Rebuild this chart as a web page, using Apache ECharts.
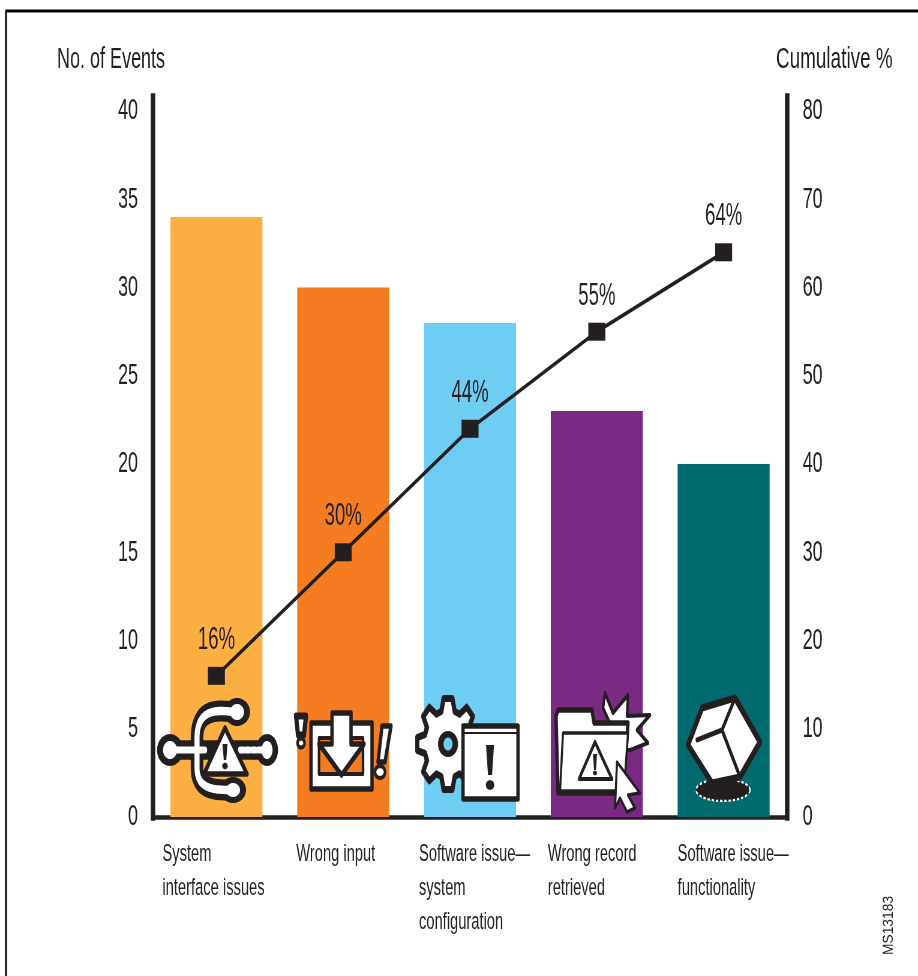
<!DOCTYPE html>
<html><head><meta charset="utf-8">
<style>html,body{margin:0;padding:0;background:#fff;overflow:hidden}
#wrap{width:918px;height:976px;overflow:hidden}
#c{width:1530px;height:976px;transform:scaleX(0.6);transform-origin:0 0}</style>
<script src="https://cdn.jsdelivr.net/npm/echarts@6/dist/echarts.min.js"></script>
</head><body><div id="wrap"><div id="c"></div></div>
<script>
const categories = ['System\ninterface issues','Wrong input','Software issue\u2014\nsystem\nconfiguration','Wrong record\nretrieved','Software issue\u2014\nfunctionality'];
const events = [34,30,28,23,20];
const cumulative = [16,30,44,55,64];
const barColors = ['#fdb042','#f57c20','#6fcdf3','#7b2a83','#006a6e'];
const leftName = 'No. of Events';
const rightName = 'Cumulative %';
const sourceCode = 'MS13183';

const SX = 0.6; // the original artwork is a horizontally condensed design
const INK = '#231f20', FONT = '"Liberation Sans",Arial,sans-serif';
const labelBoxWidths = [108,94,102,98,92];
const STROKE = 1.4;

function P(d, fill, stroke, lw, extra){
  const out=[]; let pts=[], cx=0, cy=0, closed=false;
  const flush=()=>{ if(pts.length>1){ out.push({type:closed?'polygon':'polyline',silent:true,z:50,
      shape:{points:pts.map(p=>[p[0]/SX,p[1]])},
      style:Object.assign({fill:closed?(fill||'none'):'none',stroke:stroke||'none',lineWidth:(lw||0)*STROKE,lineJoin:'round',lineCap:'round'},extra||{})}); }
    pts=[]; closed=false; };
  const re=/([MLHVCZ])([^MLHVCZ]*)/g; let m;
  while((m=re.exec(d))){
    const n=m[2].trim().split(/[\s,]+/).filter(Boolean).map(Number);
    if(m[1]==='M'){flush(); cx=n[0];cy=n[1];pts.push([cx,cy]);}
    else if(m[1]==='L'){cx=n[0];cy=n[1];pts.push([cx,cy]);}
    else if(m[1]==='H'){cx=n[0];pts.push([cx,cy]);}
    else if(m[1]==='V'){cy=n[0];pts.push([cx,cy]);}
    else if(m[1]==='C'){
      for(let k=1;k<=24;k++){const t=k/24,u=1-t;
        pts.push([u*u*u*cx+3*u*u*t*n[0]+3*u*t*t*n[2]+t*t*t*n[4], u*u*u*cy+3*u*u*t*n[1]+3*u*t*t*n[3]+t*t*t*n[5]]);}
      cx=n[4];cy=n[5];
    } else if(m[1]==='Z'){closed=true;flush();}
  }
  flush();
  return out;
}
function E(cx,cy,rx,ry,fill,stroke,lw,extra){
  const points=[];
  for(let i=0;i<48;i++){const a=i/48*2*Math.PI;points.push([(cx+rx*Math.cos(a))/SX,cy+ry*Math.sin(a)]);}
  return [{type:'polygon',silent:true,z:50,shape:{points},
    style:Object.assign({fill:fill||'none',stroke:stroke||'none',lineWidth:(lw||0)*STROKE},extra||{})}];
}
function bang(x,top,bottom,dotY,w,r){
  return [...P(`M${x-w/2} ${top}L${x+w/2} ${top}L${x+w*0.25} ${bottom}L${x-w*0.25} ${bottom}Z`,INK), ...E(x,dotY,r,r*1.15,INK)];
}
function gearPath(cx,cy,rxO,ryO,rxI,ryI,n){
  let d='';
  for(let i=0;i<n;i++){
    const a=-Math.PI/2+i*2*Math.PI/n, s=2*Math.PI/n;
    [[a-s*0.36,rxI,ryI],[a-s*0.18,rxO,ryO],[a+s*0.18,rxO,ryO],[a+s*0.36,rxI,ryI]].forEach((p,j)=>{
      d+=((i===0&&j===0)?'M':'L')+(cx+p[1]*Math.cos(p[0])).toFixed(1)+' '+(cy+p[2]*Math.sin(p[0])).toFixed(1);});
  }
  return d+'Z';
}

// icon 1: split connector with warning triangle
const conn='M233 712C218 710 197 708 197 738L197 768C197 790 215 790 233 790';
const icon1=[
  ...P('M170 750L266 750',null,INK,14),
  ...E(170,750,13,16,INK), ...E(267,750,11,16,INK), ...E(237,712,13,14,INK), ...E(233,790,13,13,INK),
  ...P(conn,null,INK,15),
  ...P('M170 750L205 750',null,'#fff',5), ...P('M240 750L266 750',null,'#fff',5,{lineDash:[6,4]}),
  ...E(170,750,7,9,'#fff'), ...E(267,750,5.5,9,'#fff'), ...E(237,712,7,8,'#fff'), ...E(233,790,7,7,'#fff'),
  ...P(conn,null,'#fff',6),
  ...P('M225 728L247 774L204 774Z','#fff',INK,4),
  ...bang(225,744,760,766,5,2.8)
];
// icon 2: inbox with arrow
const icon2=[
  ...P('M311 723H372V789H311Z','#fff',INK,4),
  ...P('M319 738H363V774H319Z','#f57c20',INK,3),
  ...P('M332 713H351V744H364L341.5 775L319 744H332Z','#fff',INK,4),
  ...P('M296 716H306L304 735H298Z','#fff',INK,5),
  ...E(301,743,3.5,4.5,'#fff',INK,3),
  ...P('M382 726H391L385 762H378Z','#fff',INK,4),
  ...E(380,772,5,6,'#fff',INK,3)
];
// icon 3: gear and dialog window
const icon3=[
  ...P(gearPath(448,744,31,46,24,34,8),'#fff',INK,5),
  ...E(448,744,10,13,INK), ...E(448,744,4.5,6.5,'#6fcdf3'),
  ...P('M463 726H518V799H463Z','#fff',INK,4),
  ...P('M463 733H518',null,INK,1.5),
  ...bang(490,745,775,785,8,4.2)
];
// icon 4: folder, burst and cursor
const icon4=[
  ...P('M603 708L605 693L613 713L628 695L627 716L650 715L637 730L648 743L630 750L622 750Z','#fff',INK,3),
  ...P('M556 716L558 710H592L594 723H628L623 793H558Z','#fff',INK,4),
  ...P('M563 733H628L624 791H560Z','#fff',INK,2.5),
  ...P('M595 742L612 779L579 779Z','#fff',INK,3),
  ...bang(595,754,770,773,4,2),
  ...P('M617 762L640 793L628 795L635 808L627 812L620 798L615 808Z','#fff',INK,2.5)
];
// icon 5: cube with shadow
const icon5=[
  ...E(723,790,27,11,INK,'#fff',1.6,{lineDash:[4,3]}),
  ...P('M735 698L760 742L740 777L712 783L688 745L702 708Z','#fff',INK,5),
  ...P('M735 698L722 730L697 740',null,INK,3.5),
  ...P('M722 730L740 777',null,INK,3.5)
];

const txt=(text,x,y,size,sx)=>({type:'text',silent:true,z:60,x:x/SX,y,scaleX:sx||1,
  style:{text,fontFamily:FONT,fontSize:size,fill:INK,textAlign:'left',textVerticalAlign:'middle'}});

const chart=echarts.init(document.getElementById('c'),null,{renderer:'canvas'});
const rich={};
labelBoxWidths.forEach((w,i)=>{rich['w'+i]={width:w/SX,align:'left',fontFamily:FONT,fontSize:24.5,lineHeight:34,color:INK};});
const xLine={show:true,onZero:false,lineStyle:{color:INK,width:4.5,cap:'square'}};
const yLine={show:true,onZero:false,lineStyle:{color:INK,width:7.5,cap:'square'}};
chart.setOption({
  animation:false,
  backgroundColor:'#fff',
  grid:{left:153/SX,right:(918-787)/SX,top:97,bottom:159,containLabel:false},
  xAxis:{type:'category',data:categories,axisLine:xLine,axisTick:{show:false},
    axisLabel:{interval:0,margin:20,align:'center',verticalAlign:'top',
      formatter:(v,i)=>v.split('\n').map(s=>`{w${i}|${s}}`).join('\n'),rich}},
  yAxis:[
    {type:'value',min:0,max:40.8,interval:5,position:'left',axisLine:yLine,axisTick:{show:false},splitLine:{show:false},
     axisLabel:{showMaxLabel:false,margin:25,fontFamily:FONT,fontSize:30,color:INK,padding:[0,0,4,0]}},
    {type:'value',min:0,max:81.6,interval:10,position:'right',axisLine:yLine,axisTick:{show:false},splitLine:{show:false},
     axisLabel:{showMaxLabel:false,margin:26,fontFamily:FONT,fontSize:30,color:INK,padding:[0,0,4,0]}}
  ],
  series:[
    {type:'bar',yAxisIndex:0,barWidth:92/SX,data:events.map((v,i)=>({value:v,itemStyle:{color:barColors[i]}}))},
    {type:'line',yAxisIndex:1,data:cumulative,symbol:'rect',symbolSize:[17/SX,18],z:5,
     lineStyle:{color:INK,width:4},itemStyle:{color:INK},
     label:{show:true,position:'top',distance:11,formatter:p=>p.value+'%',fontFamily:FONT,fontSize:31,color:INK}}
  ],
  graphic:{elements:[
    {type:'rect',silent:true,z:40,shape:{x:6/SX,y:11,width:1000/SX,height:1000},style:{fill:'none',stroke:'#000',lineWidth:3}},
    txt(leftName,57,60,30),
    txt(rightName,776,60,30,1.05),
    {type:'text',silent:true,z:60,x:882/SX,y:955,rotation:Math.PI/2,scaleX:0.6,
      style:{text:sourceCode,fontFamily:FONT,fontSize:23,fill:INK,textAlign:'left',textVerticalAlign:'top'}},
    ...icon1,...icon2,...icon3,...icon4,...icon5
  ]}
});
</script></body></html>
